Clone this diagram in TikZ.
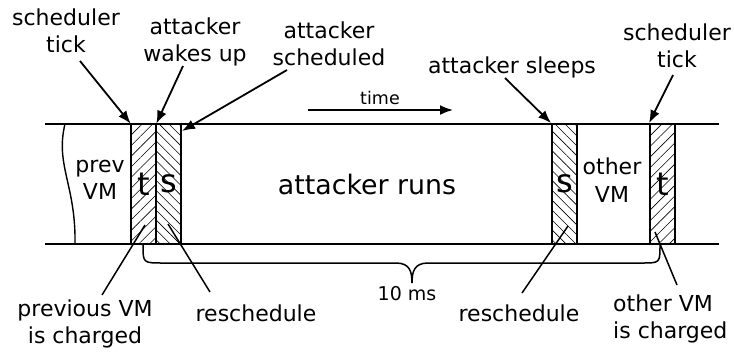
\documentclass[tikz,border=0pt]{standalone}
\usepackage{fontspec}
\setmainfont{DejaVu Sans}
\usetikzlibrary{patterns.meta,arrows.meta}
\begin{document}
\begin{tikzpicture}[x=1pt,y=-1pt,
  lbl/.style={font=\fontsize{22}{27.5}\selectfont, align=center, inner sep=0pt},
  slot/.style={draw, line width=1.8pt, minimum width=25pt, minimum height=120pt, inner sep=0pt,
    font=\fontsize{32}{32}\selectfont},
  tslot/.style={slot, pattern={Lines[angle=45,distance=7.5pt,line width=0.6pt]}},
  sslot/.style={slot, pattern={Lines[angle=-45,distance=7pt,line width=0.6pt]}},
  rail/.style={line width=1.8pt},
  arr/.style={line width=1.8pt, -{Latex[length=13pt,width=10pt]}},
  lead/.style={line width=1.5pt}]
\useasboundingbox (0,0) rectangle (734,351);
% rails
\coordinate (tl) at (45,124);
\coordinate (tr) at (719,124);
\coordinate (bl) at (45,244);
\coordinate (br) at (719,244);
\draw[rail] (tl) -- (tr);
\draw[rail] (bl) -- (br);
% wavy edge
\coordinate (w1) at (65,124);
\coordinate (w2) at (75,244);
\draw[line width=1.4pt] (w1) .. controls (55,165) and (76,185) .. (w2);
% slots
\node[tslot] (t1) at (143.5,184) {t};
\node[sslot] (s1) at (168.5,184) {s};
\node[sslot] (s2) at (564.5,184) {s};
\node[tslot] (t2) at (662.5,184) {t};
% inner texts
\node[lbl] (prev) at (100,180) {prev\\VM};
\node[lbl, font=\fontsize{26.8}{30}\selectfont] (runs) at (367,185) {attacker runs};
\node[lbl] (other) at (612,180) {other\\VM};
% top labels
\node[lbl] (schedL) at (66,31) {scheduler\\tick};
\node[lbl] (wake) at (195,42) {attacker\\wakes up};
\node[lbl] (sched) at (329,44) {attacker\\scheduled};
\node[lbl] (sleeps) at (512,67) {attacker sleeps};
\node[lbl] (schedR) at (677,46) {scheduler\\tick};
\node[lbl, font=\fontsize{17.5}{20}\selectfont] (time) at (380,98) {time};
% top arrows
\coordinate (a1) at (80,61);
\coordinate (a2) at (183,66);
\coordinate (a3) at (287,70);
\coordinate (a3e) at (182,131);
\coordinate (a4) at (505,78);
\coordinate (a5) at (673,75);
\draw[arr] (a1) -- (t1.north west);
\draw[arr] (a2) -- (t1.north east);
\draw[arr] (a3) -- (a3e);
\draw[arr] (a4) -- (s2.north west);
\draw[arr] (a5) -- (t2.north west);
\coordinate (ts) at (308,110);
\coordinate (te) at (453,110);
\draw[arr] (ts) -- (te);
% bottom labels
\node[lbl] (prevCh) at (85,324) {previous VM\\is charged};
\node[lbl] (resL) at (256,313) {reschedule};
\node[lbl] (resR) at (519,313) {reschedule};
\node[lbl, align=left, anchor=west] (otherCh) at (613,319) {other VM\\is charged};
\node[lbl, font=\fontsize{19}{22}\selectfont] (tenms) at (407,294) {10 ms};
% bottom leaders
\coordinate (b1s) at (102,295); \coordinate (b1e) at (145,225);
\coordinate (b2s) at (210,292); \coordinate (b2e) at (168,224);
\coordinate (b3s) at (522,293); \coordinate (b3e) at (568,226);
\coordinate (b4s) at (677,285); \coordinate (b4e) at (655,232);
\draw[lead] (b1s) -- (b1e);
\draw[lead] (b2s) -- (b2e);
\draw[lead] (b3s) -- (b3e);
\draw[lead] (b4s) -- (b4e);
% brace
\coordinate (brL) at (143,245);
\coordinate (brT) at (412,283);
\coordinate (brR) at (660,245);
\draw[line width=1.5pt] (brL) .. controls (143,263) .. (163,263) -- (396,263)
  .. controls (410,263) and (412,272) .. (brT)
  .. controls (412,272) and (414,263) .. (428,263) -- (642,263)
  .. controls (660,263) .. (brR);
\end{tikzpicture}
\end{document}
